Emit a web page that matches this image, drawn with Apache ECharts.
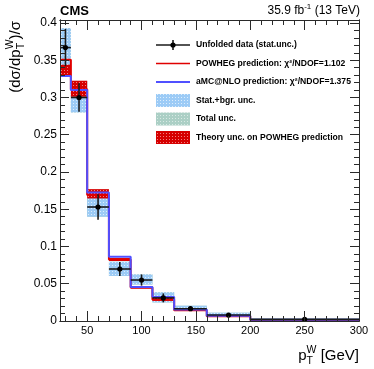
<!DOCTYPE html>
<html>
<head>
<meta charset="utf-8">
<script src="https://cdn.jsdelivr.net/npm/echarts@6/dist/echarts.min.js"></script>
<style>
html, body { margin: 0; padding: 0; background: #fff; }
#chart { width: 374px; height: 369px; }
</style>
</head>
<body>
<div id="chart"></div>
<script>
// bins in p_T^W [GeV]
const binEdges = [25, 35, 50, 70, 90, 110, 130, 160, 200, 300];
// unfolded data and its stat. unc.
const dataVal = [0.367, 0.300, 0.153, 0.0698, 0.055, 0.031, 0.0165, 0.008, 0.0022];
const dataErr = [0.025, 0.019, 0.017, 0.0095, 0.0075, 0.006, 0.003, 0.002, 0.001];
// stat.+bgr. band
const statLo = [0.343, 0.280, 0.140, 0.0605, 0.049, 0.025, 0.0135, 0.006, 0.0012];
const statHi = [0.393, 0.322, 0.166, 0.0795, 0.0625, 0.0385, 0.0205, 0.011, 0.003];
// total unc. band (hidden under the stat band)
const totalLo = [0.343, 0.280, 0.140, 0.0605, 0.049, 0.025, 0.0135, 0.006, 0.0012];
const totalHi = [0.393, 0.322, 0.166, 0.0795, 0.0625, 0.0385, 0.0205, 0.011, 0.003];
// theory unc. on POWHEG
const theoryLo = [0.328, 0.301, 0.1645, 0.0805, 0.0435, 0.027, 0.0135, 0.0057, 0.0009];
const theoryHi = [0.344, 0.3225, 0.177, 0.0845, 0.047, 0.031, 0.0155, 0.0069, 0.0017];
// predictions
const powheg = [0.3505, 0.311, 0.169, 0.0825, 0.045, 0.029, 0.0145, 0.0063, 0.0013];
const amcnlo = [0.329, 0.310, 0.1725, 0.0862, 0.0458, 0.0322, 0.0155, 0.0072, 0.0016];

// ticks
const xMajor = [50, 100, 150, 200, 250, 300];
const xMinor = [30, 40, 60, 70, 80, 90, 110, 120, 130, 140, 160, 170, 180, 190,
  210, 220, 230, 240, 260, 270, 280, 290];
const yMajor = [0, 0.05, 0.1, 0.15, 0.2, 0.25, 0.3, 0.35, 0.4];
const yMinor = [0.01, 0.02, 0.03, 0.04, 0.06, 0.07, 0.08, 0.09, 0.11, 0.12, 0.13, 0.14,
  0.16, 0.17, 0.18, 0.19, 0.21, 0.22, 0.23, 0.24, 0.26, 0.27, 0.28, 0.29,
  0.31, 0.32, 0.33, 0.34, 0.36, 0.37, 0.38, 0.39];

const legendNames = [
  'Unfolded data (stat.unc.)',
  'POWHEG prediction: χ²/NDOF=1.102',
  'aMC@NLO prediction: χ²/NDOF=1.375',
  'Stat.+bgr. unc.',
  'Total unc.',
  'Theory unc. on POWHEG prediction'
];

const FONT = '"Liberation Sans", Arial, Helvetica, sans-serif';
const AXIS_COLOR = '#2a2a2a';

function dotPattern(bg, dot) {
  const c = document.createElement('canvas');
  c.width = 3; c.height = 3;
  const g = c.getContext('2d');
  g.fillStyle = bg; g.fillRect(0, 0, 3, 3);
  g.fillStyle = dot; g.fillRect(1, 1, 1, 1);
  return { image: c, repeat: 'repeat' };
}
const statFill = dotPattern('#9ccbf6', '#dcedfc');
const totalFill = dotPattern('#abcfc5', '#d8e9e4');
const theoryFill = dotPattern('#d60000', '#f08080');

const measureCtx = document.createElement('canvas').getContext('2d');
function fontOf(p) { return (p.bold ? 'bold ' : '') + p.size + 'px ' + FONT; }
// lay text pieces left to right; stack:true puts a piece at the previous piece's x
function layoutPieces(pieces) {
  let x = 0, prev = 0;
  const children = [];
  pieces.forEach(p => {
    const font = fontOf(p);
    measureCtx.font = font;
    const w = measureCtx.measureText(p.t).width;
    const px = p.stack ? prev : x;
    x = Math.max(x, px + w);
    prev = px;
    children.push({ type: 'text', x: px, y: p.dy || 0,
      style: { text: p.t, font: font, fill: '#000', verticalAlign: 'middle' } });
  });
  return { children, width: x };
}

function xAx(pos, ticks, len, showLabel) {
  return {
    type: 'value', min: 25, max: 300, position: pos, z: 10,
    axisLine: { show: true, onZero: false, lineStyle: { color: AXIS_COLOR, width: 1 } },
    axisTick: { show: true, inside: true, length: len, customValues: ticks,
      lineStyle: { color: AXIS_COLOR, width: 1 } },
    axisLabel: { show: showLabel, customValues: xMajor, margin: 4, fontSize: 11,
      color: '#000', fontFamily: FONT },
    splitLine: { show: false }
  };
}
function yAx(pos, ticks, len, showLabel) {
  return {
    type: 'value', min: 0, max: 0.404, position: pos, z: 10,
    axisLine: { show: true, onZero: false, lineStyle: { color: AXIS_COLOR, width: 1 } },
    axisTick: { show: true, inside: true, length: len, customValues: ticks,
      lineStyle: { color: AXIS_COLOR, width: 1 } },
    axisLabel: { show: showLabel, customValues: yMajor, margin: 3, fontSize: 12,
      color: '#000', fontFamily: FONT },
    splitLine: { show: false }
  };
}

function boxSeries(name, lo, hi, fill, z) {
  return {
    type: 'custom', name: name, z: z, silent: true,
    data: lo.map((v, i) => [binEdges[i], binEdges[i + 1], v, hi[i]]),
    encode: { x: [0, 1], y: [2, 3] },
    renderItem(params, api) {
      const p0 = api.coord([api.value(0), api.value(2)]);
      const p1 = api.coord([api.value(1), api.value(3)]);
      return { type: 'rect',
        shape: { x: p0[0], y: p1[1], width: p1[0] - p0[0], height: p0[1] - p1[1] },
        style: { fill: fill } };
    }
  };
}

function stepData(vals) {
  return binEdges.map((e, i) => [e, vals[Math.min(i, vals.length - 1)]]);
}

const chart = echarts.init(document.getElementById('chart'));

// axis titles and labels built from measured pieces
const yTitle = layoutPieces([
  { t: '(dσ/dp', size: 15 },
  { t: 'W', size: 10.5, dy: -6 },
  { t: 'T', size: 10.5, dy: 5, stack: true },
  { t: ')/σ', size: 15 }
]);
const xTitle = layoutPieces([
  { t: 'p', size: 15 },
  { t: 'W', size: 10.5, dy: -6 },
  { t: 'T', size: 10.5, dy: 5, stack: true },
  { t: ' [GeV]', size: 15 }
]);
const lumi = layoutPieces([
  { t: '35.9 fb', size: 12 },
  { t: '-1', size: 8, dy: -4 },
  { t: ' (13 TeV)', size: 12 }
]);

const legendY = [45, 63.5, 82, 100.5, 119, 137.5];
const legX0 = 156, legX1 = 190, legText = 196;
const legendGraphics = [
  { type: 'line', shape: { x1: legX0, y1: legendY[0], x2: legX1, y2: legendY[0] },
    style: { stroke: '#1a1a1a', lineWidth: 1.6 } },
  { type: 'line', shape: { x1: 173, y1: legendY[0] - 5, x2: 173, y2: legendY[0] + 5 },
    style: { stroke: '#1a1a1a', lineWidth: 1.6 } },
  { type: 'circle', shape: { cx: 173, cy: legendY[0], r: 2.6 }, style: { fill: '#000' } },
  { type: 'line', shape: { x1: legX0, y1: legendY[1], x2: legX1, y2: legendY[1] },
    style: { stroke: '#e00000', lineWidth: 1.5 } },
  { type: 'line', shape: { x1: legX0, y1: legendY[2], x2: legX1, y2: legendY[2] },
    style: { stroke: '#5050ff', lineWidth: 2 } },
  { type: 'rect', shape: { x: legX0, y: legendY[3] - 6.5, width: legX1 - legX0, height: 13 },
    style: { fill: statFill } },
  { type: 'rect', shape: { x: legX0, y: legendY[4] - 6.5, width: legX1 - legX0, height: 13 },
    style: { fill: totalFill } },
  { type: 'rect', shape: { x: legX0, y: legendY[5] - 6.5, width: legX1 - legX0, height: 13 },
    style: { fill: theoryFill } }
].concat(legendNames.map((n, i) => ({
  type: 'text', x: legText, y: legendY[i],
  style: { text: n, font: 'bold 8.6px ' + FONT, fill: '#000', verticalAlign: 'middle' }
})));

const option = {
  animation: false,
  backgroundColor: '#fff',
  grid: { left: 60, top: 20, width: 299, height: 301 },
  xAxis: [
    xAx('bottom', xMajor, 10, true),
    xAx('bottom', xMinor, 5, false),
    xAx('top', xMajor, 10, false),
    xAx('top', xMinor, 5, false)
  ],
  yAxis: [
    yAx('left', yMajor, 9, true),
    yAx('left', yMinor, 5, false),
    yAx('right', yMajor, 9, false),
    yAx('right', yMinor, 5, false)
  ],
  series: [
    boxSeries('Total unc.', totalLo, totalHi, totalFill, 1),
    boxSeries('Stat.+bgr. unc.', statLo, statHi, statFill, 2),
    boxSeries('Theory unc. on POWHEG prediction', theoryLo, theoryHi, theoryFill, 3),
    {
      type: 'line', name: 'POWHEG', step: 'end', z: 4, showSymbol: false, silent: true,
      data: stepData(powheg), lineStyle: { color: '#e00000', width: 2 }
    },
    {
      type: 'line', name: 'aMC@NLO', step: 'end', z: 5, showSymbol: false, silent: true,
      data: stepData(amcnlo), lineStyle: { color: '#5050ff', width: 2 }
    },
    {
      type: 'custom', name: 'Unfolded data', z: 6, silent: true,
      data: dataVal.map((v, i) => [binEdges[i], binEdges[i + 1], v, dataErr[i]]),
      encode: { x: [0, 1], y: 2 },
      renderItem(params, api) {
        const xl = api.value(0), xh = api.value(1), v = api.value(2), e = api.value(3);
        const xc = (xl + xh) / 2;
        const a = api.coord([xl, v]), b = api.coord([xh, v]);
        const c = api.coord([xc, v]);
        const top = api.coord([xc, v + e]), bot = api.coord([xc, v - e]);
        const ls = { stroke: '#1a1a1a', lineWidth: 1.6 };
        return { type: 'group', children: [
          { type: 'line', shape: { x1: a[0], y1: a[1], x2: b[0], y2: b[1] }, style: ls },
          { type: 'line', shape: { x1: top[0], y1: top[1], x2: bot[0], y2: bot[1] }, style: ls },
          { type: 'circle', shape: { cx: c[0], cy: c[1], r: 2.6 }, style: { fill: '#000' } }
        ] };
      }
    }
  ],
  graphic: [
    { type: 'text', x: 60, y: 11,
      style: { text: 'CMS', font: 'bold 13px ' + FONT, fill: '#000', verticalAlign: 'middle' } },
    { type: 'group', x: 360 - lumi.width, y: 11, children: lumi.children },
    { type: 'group', x: 16, y: 21 + yTitle.width, rotation: Math.PI / 2, children: yTitle.children },
    { type: 'group', x: 359 - xTitle.width, y: 356, children: xTitle.children }
  ].concat(legendGraphics)
};
chart.setOption(option);
</script>
</body>
</html>
